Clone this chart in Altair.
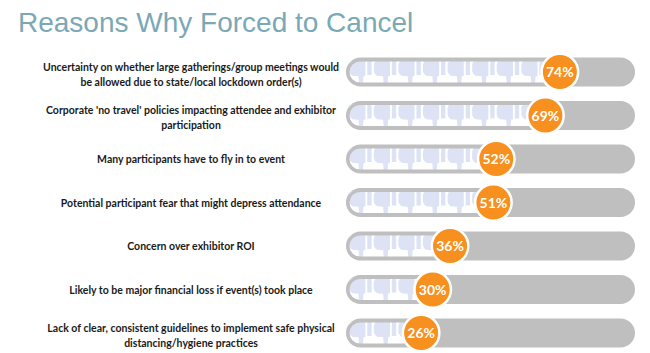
import altair as alt
import pandas as pd

title_text = "Reasons Why Forced to Cancel"
reasons = [
    "Uncertainty on whether large gatherings/group meetings would\nbe allowed due to state/local lockdown order(s)",
    "Corporate 'no travel' policies impacting attendee and exhibitor\nparticipation",
    "Many participants have to fly in to event",
    "Potential participant fear that might depress attendance",
    "Concern over exhibitor ROI",
    "Likely to be major financial loss if event(s) took place",
    "Lack of clear, consistent guidelines to implement safe physical\ndistancing/hygiene practices",
]
values = [74, 69, 52, 51, 36, 30, 26]

df = pd.DataFrame({
    "reason": reasons,
    "value": [v / 100 for v in values],
    "label": [f"{v}%" for v in values],
    "zero": [0.0] * len(values),
    "one": [1.0] * len(values),
    "l1": [r.split("\n")[0] for r in reasons],
    "l2": [r.split("\n")[1] if "\n" in r else "" for r in reasons],
    "n": [len(r.split("\n")) for r in reasons],
})

# decorative thumbs-down pattern inside the filled part of each track
icon_start, icon_step = 0.052, 0.0851
icon_rows = []
for r, v in zip(reasons, values):
    k = 0
    while icon_start + k * icon_step <= v / 100 + 0.02:
        icon_rows.append({"reason": r, "pos": icon_start + k * icon_step})
        k += 1
icons_df = pd.DataFrame(icon_rows)

thumb_path = (
    "M -0.75 -0.9 L 0.35 -0.9 L 0.35 0.3 L 0.2 0.35 L 0.15 0.95 L -0.15 0.95 "
    "L -0.2 0.35 L -0.7 0.3 Q -1.0 0.1 -0.95 -0.3 Q -1.0 -0.8 -0.75 -0.9 Z "
    "M 0.5 -0.9 L 0.85 -0.9 L 0.85 0.25 L 0.5 0.25 Z"
)

xs = alt.Scale(domain=[0, 1], range=[346, 635])
y_enc = alt.Y("reason:N", sort=reasons,
              scale=alt.Scale(type="point", range=[72, 333], padding=0), axis=None)

base = alt.Chart(df)

track = base.mark_bar(size=29, cornerRadius=14.5, color="#BFBFBF").encode(
    x=alt.X("zero:Q", scale=xs, axis=None), x2="one:Q", y=y_enc)

fill = base.mark_bar(size=22, cornerRadius=11, color="#FFFFFF", xOffset=3).encode(
    x=alt.X("zero:Q", scale=xs, axis=None), x2="value:Q", y=y_enc)

icons = alt.Chart(icons_df).mark_point(
    shape=thumb_path, size=620, filled=True, fill="#DDE3F4", opacity=1, strokeWidth=0
).encode(x=alt.X("pos:Q", scale=xs, axis=None), y=y_enc)

rim = base.mark_bar(size=24, cornerRadius=12, fillOpacity=0, stroke="#BFBFBF",
                    strokeWidth=3, xOffset=2).encode(
    x=alt.X("zero:Q", scale=xs, axis=None), x2="value:Q", y=y_enc)

circles = base.mark_point(
    shape="circle", size=1330, filled=True, fill="#F7901E", opacity=1,
    stroke="#FFFFFF", strokeWidth=2.5
).encode(x=alt.X("value:Q", scale=xs, axis=None), y=y_enc)

pct = base.mark_text(
    color="#FFFFFF", font="Lato", fontWeight="bold", fontSize=14, baseline="middle", dy=1
).encode(x=alt.X("value:Q", scale=xs, axis=None), y=y_enc, text="label:N")

label_style = dict(align="center", baseline="middle", font="Lato", fontWeight="bold",
                   fontSize=10.5, color="#1A1A1A")

single = base.transform_filter("datum.n == 1").mark_text(dy=1, **label_style).encode(
    x=alt.value(191), y=y_enc, text="l1:N")
first = base.transform_filter("datum.n == 2").mark_text(dy=-4.5, **label_style).encode(
    x=alt.value(191), y=y_enc, text="l1:N")
second = base.transform_filter("datum.n == 2").mark_text(dy=10.5, **label_style).encode(
    x=alt.value(191), y=y_enc, text="l2:N")

title = alt.Chart(pd.DataFrame({"t": [title_text]})).mark_text(
    align="left", baseline="alphabetic", font="Liberation Sans",
    fontSize=28, color="#7BA8B5"
).encode(x=alt.value(18), y=alt.value(32), text="t:N")

chart = alt.layer(track, fill, icons, rim, circles, pct, single, first, second, title).properties(
    width=650, height=353, padding=0, autosize="none", background="#FFFFFF"
).configure_view(stroke=None)

chart.save("out.html", embed_options={"renderer": "svg", "actions": False})
